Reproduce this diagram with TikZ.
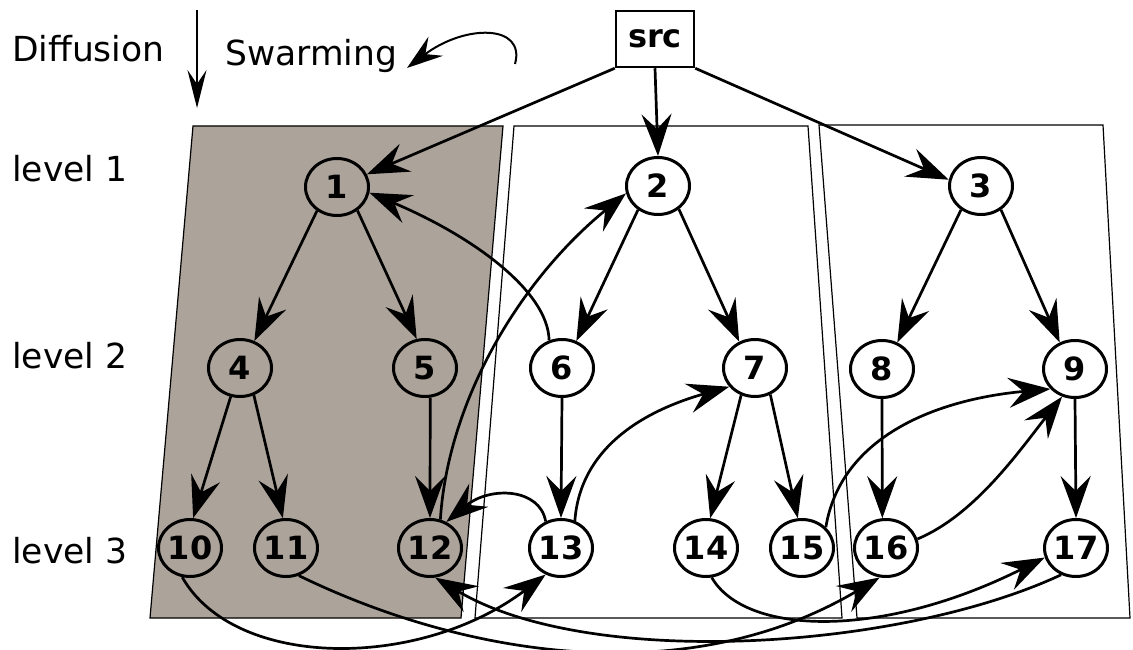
\documentclass[tikz,border=0pt]{standalone}
\usepackage{fontspec}
\setmainfont{DejaVu Sans}
\usetikzlibrary{arrows.meta,shapes.geometric}
\definecolor{panelgray}{RGB}{172,163,154}
\begin{document}
\begin{tikzpicture}[x=1pt,y=-1pt,
  nd/.style={ellipse,draw,line width=3pt,minimum width=63pt,minimum height=57pt,inner sep=0pt,font=\fontsize{32pt}{38pt}\selectfont\bfseries},
  gnd/.style={nd,fill=panelgray},
  wnd/.style={nd,fill=white},
  srcbox/.style={draw,line width=2.5pt,fill=white,minimum width=78pt,minimum height=56pt,inner sep=0pt,font=\fontsize{32pt}{38pt}\selectfont\bfseries},
  edge/.style={line width=2.7pt,-{Stealth[length=42pt,width=30pt,inset=15pt]}},
  thinarrow/.style={line width=2pt,-{Stealth[length=38pt,width=19pt,inset=14pt]}},
  swarrow/.style={line width=2pt,-{Stealth[length=36pt,width=24pt,inset=13pt]}},
  panel/.style={draw,line width=1.2pt},
  lbl/.style={anchor=base west,inner sep=0pt,font=\fontsize{34.5pt}{41pt}\selectfont}]
\useasboundingbox (0,0) rectangle (1133,650);

% panels
\path[panel,fill=panelgray] (193,126) -- (503,126) -- (461,618) -- (150,618) -- cycle;
\path[panel] (514,126) -- (808,126) -- (842,618) -- (475,618) -- cycle;
\path[panel] (819,125) -- (1103,125) -- (1130,618) -- (857,618) -- cycle;

% labels
\node[lbl] (tdiff) at (12,62) {Diffusion};
\node[lbl] (tswarm) at (225,66) {Swarming};
\node[lbl] (tl1) at (12,182) {level 1};
\node[lbl] (tl2) at (12,368) {level 2};
\node[lbl] (tl3) at (12,563) {level 3};

% legend arrows
\coordinate (dtop) at (197,10);
\coordinate (dbot) at (197,108);
\draw[thinarrow] (dtop) -- (dbot);
\coordinate (sws) at (515,64);
\coordinate (swe) at (407,68);
\draw[swarrow] (sws) .. controls (526,24) and (465,24) .. (swe);

% nodes
\node[srcbox] (src) at (655,39) {src};
\node[gnd] (n1) at (337,187) {1};
\node[wnd] (n2) at (658,186) {2};
\node[wnd] (n3) at (981,186) {3};
\node[gnd] (n4) at (240,368) {4};
\node[gnd] (n5) at (425,368) {5};
\node[wnd] (n6) at (562,368) {6};
\node[wnd] (n7) at (755,368) {7};
\node[wnd] (n8) at (882,369) {8};
\node[wnd] (n9) at (1075,369) {9};
\node[gnd] (n10) at (190,548) {10};
\node[gnd] (n11) at (286,548) {11};
\node[gnd] (n12) at (430,548) {12};
\node[wnd] (n13) at (561,548) {13};
\node[wnd] (n14) at (706,548) {14};
\node[wnd] (n15) at (802,548) {15};
\node[wnd] (n16) at (886,548) {16};
\node[wnd] (n17) at (1076,548) {17};

% diffusion tree edges
\draw[edge] (src.south west) -- (n1.23);
\draw[edge] (src.south) -- (n2.90);
\draw[edge] (src.south east) -- (n3.169);
\draw[edge] (n1.230) -- (n4.62);
\draw[edge] (n1.311) -- (n5.106);
\draw[edge] (n2.230) -- (n6.62);
\draw[edge] (n2.312) -- (n7.121);
\draw[edge] (n3.230) -- (n8.60);
\draw[edge] (n3.310) -- (n9.120);
\draw[edge] (n4.252) -- (n10.84);
\draw[edge] (n4.297) -- (n11.96);
\draw[edge] (n5.280) -- (n12.90);
\draw[edge] (n6.270) -- (n13.90);
\draw[edge] (n7.243) -- (n14.82);
\draw[edge] (n7.300) -- (n15.98);
\draw[edge] (n8.270) -- (n16.97);
\draw[edge] (n9.270) -- (n17.90);

% swarming edges
\draw[edge] (n6.115) .. controls (548,290) and (470,235) .. (n1.350);
\draw[edge] (n12.70) .. controls (448,400) and (520,280) .. (n2.193);
\draw[edge] (n13.120) .. controls (540,488) and (490,486) .. (n12.58);
\draw[edge] (n13.63) .. controls (580,450) and (640,412) .. (n7.216);
\draw[edge] (n15.41) .. controls (840,440) and (930,400) .. (n9.219);
\draw[edge] (n16.16) .. controls (975,515) and (1020,450) .. (n9.245);
\draw[edge] (n10.255) .. controls (235,670) and (420,670) .. (n13.240);
\draw[edge] (n11.295) .. controls (466,657) and (687,692) .. (n16.258);
\draw[edge] (n14.281) .. controls (745,635) and (880,640) .. (n17.197);
\draw[edge] (n17.241) .. controls (900,650) and (590,670) .. (n12.280);
\end{tikzpicture}
\end{document}
